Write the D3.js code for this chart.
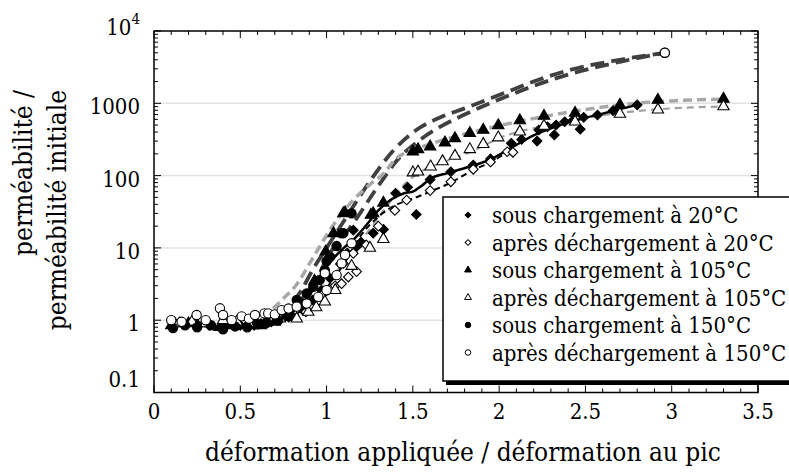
<!DOCTYPE html>
<html><head><meta charset="utf-8">
<script src="https://cdn.jsdelivr.net/npm/d3@7"></script>
<style>body{margin:0;background:#fff}</style>
</head><body><svg id="c" width="789" height="472"></svg>
<script>
// ---- data ----
const xTicks = [0, 0.5, 1, 1.5, 2, 2.5, 3, 3.5];
const xTickLabels = ["0", "0.5", "1", "1.5", "2", "2.5", "3", "3.5"];
const yTicks = [0.1, 1, 10, 100, 1000, 10000];
const yTickLabels = ["0.1", "1", "10", "100", "1000", "10"];
const legendLabels = ["sous chargement à 20°C", "après déchargement à 20°C", "sous chargement à 105°C",
  "après déchargement à 105°C", "sous chargement à 150°C", "après déchargement à 150°C"];

const s20X = [0.12,0.25,0.32,0.41,0.50,0.58,0.65,0.72,0.80,0.86,0.92,0.97,1.02,1.08,1.12,1.155,1.174,1.2,1.27,1.33,1.40,1.47,1.52,1.60,1.72,1.85,1.95,2.07,2.13,2.22,2.23,2.28,2.32,2.33,2.38,2.43,2.47,2.49,2.57,2.66,2.80];
const s20Y = [0.85,0.88,0.85,0.9,0.85,0.85,0.9,1.0,1.15,1.4,1.9,2.6,3.8,6,8.5,17.6,10.4,12,16,18,57,69,29,88,113,140,170,280,316,300,427,474,365,501,556,588,437,640,689,791,950];
const a20X = [0.15,0.3,0.45,0.55,0.68,0.78,0.88,0.98,1.05,1.087,1.097,1.126,1.155,1.174,1.23,1.30,1.396,1.464,1.60,1.72,1.85,1.95,2.047,2.08];
const a20Y = [0.95,0.95,0.95,0.9,0.95,1.1,1.3,2.3,3.0,3.2,6.1,3.95,8.4,4.7,11,20,33,46,62,82,122,154,214,210];
const s105X = [0.1,0.2,0.3,0.38,0.45,0.55,0.62,0.7,0.78,0.86,0.93,0.995,1.04,1.097,1.107,1.257,1.27,1.329,1.50,1.53,1.60,1.686,1.744,1.83,1.908,1.995,2.12,2.26,2.44,2.70,2.92,3.30];
const s105Y = [0.85,0.9,0.9,0.8,0.85,0.9,0.85,0.95,1.1,1.6,3.5,8.9,15.9,30,30.7,28.5,30,42,214,231,251,285,328,385,427,495,578,667,735,948,1110,1150];
const a105X = [0.12,0.22,0.3,0.4,0.48,0.55,0.65,0.73,0.827,0.894,0.94,0.99,1.05,1.145,1.251,1.329,1.50,1.53,1.603,1.672,1.744,1.83,1.908,1.995,2.12,2.26,2.44,2.70,2.92,3.30];
const a105Y = [0.9,0.95,0.9,1.0,0.95,0.9,0.95,1.05,1.05,1.3,1.5,1.8,2.6,5.6,10,13.2,110,113,133,157,187,231,272,336,405,485,556,711,816,905];
const s150X = [0.11,0.18,0.25,0.33,0.40,0.47,0.54,0.60,0.653,0.72,0.769,0.827,0.885,0.923,0.96,0.99,1.0,1.02,1.058,1.087,1.097,1.145,2.96];
const s150Y = [0.78,0.85,0.8,0.85,0.75,0.82,0.8,0.88,0.92,1.0,1.18,1.9,2.35,2.9,3.6,4.9,6.6,7.5,10.6,15.9,16,30,5000];
const a150X = [0.10,0.16,0.247,0.30,0.382,0.40,0.45,0.508,0.55,0.585,0.64,0.662,0.70,0.74,0.78,0.827,0.885,0.952,0.99,1.0,1.058,1.087,1.107,1.145,2.96];
const a150Y = [1.0,0.95,1.18,1.0,1.46,1.18,1.0,1.13,1.05,1.18,1.24,1.24,1.2,1.38,1.45,1.54,1.7,2.1,4.45,2.6,4.2,6.1,8,11.6,5000];

// fitted curves
const fitS20X = [0.55,0.7,0.8,0.9,1.0,1.1,1.155,1.2,1.27,1.3,1.37,1.45,1.5,1.55,1.6,1.7,1.85,1.95,2.08,2.2,2.3,2.4,2.5,2.6,2.7,2.8];
const fitS20Y = [0.88,1.0,1.3,2.2,5.5,10,12.9,17,27,33,46,57,60,72,90,108,138,168,250,360,450,540,630,720,830,950];
const fitA20X = [0.55,0.7,0.8,0.9,1.0,1.1,1.2,1.3,1.4,1.5,1.6,1.72,1.85,1.95,2.06,2.1];
const fitA20Y = [0.9,0.95,1.15,1.6,2.8,6,15,27,39,48,60,80,120,152,212,220];
const fitS105X = [0.55,0.65,0.75,0.83,0.9,0.96,1.02,1.08,1.155,1.25,1.34,1.39,1.45,1.55,1.77,2.0,2.25,2.5,2.75,3.0,3.3];
const fitS105Y = [0.95,1.2,2.0,3.2,6,10.4,17.7,28.5,46,75,113,160,205,250,360,490,650,820,980,1080,1140];
const fitA105X = [0.6,0.75,0.85,0.95,1.05,1.15,1.25,1.35,1.45,1.55,1.7,1.85,2.0,2.25,2.5,2.75,3.0,3.3];
const fitA105Y = [0.95,1.15,1.5,2.4,4.5,9,18,38,75,115,160,220,330,480,630,760,850,905];
const fitS150X = [0.6,0.75,0.85,0.92,1.0,1.116,1.2,1.27,1.39,1.52,1.66,1.8,2.0,2.2,2.4,2.7,2.96];
const fitS150Y = [0.95,1.3,2.5,5,10,27,55,97,226,427,640,850,1300,2000,2850,4000,5000];
const fitA150X = [0.6,0.75,0.85,0.95,1.0,1.155,1.31,1.41,1.54,1.66,1.8,2.0,2.2,2.4,2.7,2.96];
const fitA150Y = [0.95,1.2,1.9,4,7,22,78,164,311,475,700,1130,1740,2500,3750,5000];

// ---- drawing ----
const FONT = "DejaVu Serif Condensed";
const svg = d3.select("#c");
const L = 154, R = 758, T = 31, B = 392.5;
const x = d3.scaleLinear().domain([0, 3.5]).range([L, R]);
const y = d3.scaleLog().domain([0.1, 10000]).range([B, T]);

svg.append("g").selectAll("line").data([1, 10, 100, 1000]).join("line")
  .attr("x1", L).attr("x2", R).attr("y1", d => y(d)).attr("y2", d => y(d))
  .attr("stroke", "#e2e2e2").attr("stroke-width", 1.5);

const tk = svg.append("g").attr("stroke", "#000").attr("stroke-width", 1);
const xMinor = d3.range(0, 36).map(i => i / 10);
xMinor.forEach(v => {
  const major = Math.abs(v * 2 - Math.round(v * 2)) < 1e-6;
  const len = major ? 7 : 4;
  tk.append("line").attr("x1", x(v)).attr("x2", x(v)).attr("y1", B).attr("y2", B - len);
  tk.append("line").attr("x1", x(v)).attr("x2", x(v)).attr("y1", T).attr("y2", T + len);
});
const yMinor = [];
[0.1, 1, 10, 100, 1000].forEach(d => { for (let k = 1; k <= 9; k++) yMinor.push(d * k); });
yMinor.push(10000);
yMinor.forEach(v => {
  const major = yTicks.some(t => Math.abs(t - v) / t < 1e-6);
  const len = major ? 7 : 4;
  tk.append("line").attr("x1", L).attr("x2", L + len).attr("y1", y(v)).attr("y2", y(v));
  tk.append("line").attr("x1", R).attr("x2", R - len).attr("y1", y(v)).attr("y2", y(v));
});

svg.append("rect").attr("x", L).attr("y", T).attr("width", R - L).attr("height", B - T)
  .attr("fill", "none").attr("stroke", "#000").attr("stroke-width", 1.5);

const lineGen = d3.line().x(d => x(d[0])).y(d => y(d[1])).curve(d3.curveMonotoneX);
const fits = [
  {xs: fitS150X, ys: fitS150Y, stroke: "#404040", w: 3.8, dash: "14,7"},
  {xs: fitA150X, ys: fitA150Y, stroke: "#404040", w: 3.8, dash: "14,7"},
  {xs: fitS105X, ys: fitS105Y, stroke: "#a8a8a8", w: 3.5, dash: "9,5"},
  {xs: fitA105X, ys: fitA105Y, stroke: "#a0a0a0", w: 2.2, dash: "7,5"},
  {xs: fitA20X, ys: fitA20Y, stroke: "#000", w: 2, dash: "6,4"},
  {xs: fitS20X, ys: fitS20Y, stroke: "#000", w: 2.5, dash: null}
];
fits.forEach(f => {
  svg.append("path").datum(f.xs.map((v, i) => [v, f.ys[i]]))
    .attr("d", lineGen).attr("fill", "none").attr("stroke", f.stroke)
    .attr("stroke-width", f.w).attr("stroke-dasharray", f.dash);
});

const series = [
  {xs: s20X, ys: s20Y, type: "diamond", fill: "#000"},
  {xs: a20X, ys: a20Y, type: "diamond", fill: "#fff"},
  {xs: s105X, ys: s105Y, type: "triangle", fill: "#000"},
  {xs: a105X, ys: a105Y, type: "triangle", fill: "#fff"},
  {xs: s150X, ys: s150Y, type: "circle", fill: "#000"},
  {xs: a150X, ys: a150Y, type: "circle", fill: "#fff"}
];
function symPath(type, scale) {
  if (type === "diamond") return d3.symbol(d3.symbolSquare, 46 * scale * scale)();
  if (type === "triangle") return d3.symbol(d3.symbolTriangle, 56 * scale * scale)();
  return d3.symbol(d3.symbolCircle, 68 * scale * scale)();
}
series.forEach(s => {
  svg.append("g").selectAll("path").data(s.xs.map((v, i) => [v, s.ys[i]])).join("path")
    .attr("d", symPath(s.type, 1))
    .attr("transform", d => `translate(${x(d[0])},${y(d[1])})` + (s.type === "diamond" ? " rotate(45)" : ""))
    .attr("fill", s.fill).attr("stroke", "#000").attr("stroke-width", 1.1);
});

const fs = 22;
svg.append("g").selectAll("text").data(xTicks).join("text")
  .attr("font-family", FONT)
  .attr("x", d => x(d)).attr("y", 419).attr("text-anchor", "middle")
  .attr("font-size", fs).text((d, i) => xTickLabels[i]);
const yl = svg.append("g");
yTicks.forEach((t, i) => {
  let yy = y(t) + 11;
  if (t === 0.1) yy = 387;
  if (t === 10000) {
    const tx = yl.append("text").attr("font-family", FONT).attr("x", 140).attr("y", y(t) + 4).attr("text-anchor", "end").attr("font-size", fs);
    tx.append("tspan").text(yTickLabels[i]);
    tx.append("tspan").attr("font-size", 15).attr("dy", -11).text("4");
  } else {
    yl.append("text").attr("font-family", FONT).attr("x", 140).attr("y", yy).attr("text-anchor", "end")
      .attr("font-size", fs).text(yTickLabels[i]);
  }
});

svg.append("text").attr("font-family", FONT).attr("x", 463).attr("y", 461).attr("text-anchor", "middle")
  .attr("font-size", 26).text("déformation appliquée / déformation au pic");
svg.append("text").attr("font-family", FONT).attr("transform", "translate(32,90) rotate(-90)").attr("text-anchor", "end")
  .attr("font-size", 26).text("perméabilité /");
svg.append("text").attr("font-family", FONT).attr("transform", "translate(66,90) rotate(-90)").attr("text-anchor", "end")
  .attr("font-size", 26).text("perméabilité initiale");

const lg = svg.append("g");
const lx = 443, ly = 197, lw = 360, lh = 184;
lg.append("rect").attr("x", lx + 3).attr("y", ly + 4).attr("width", lw).attr("height", lh).attr("fill", "#000");
lg.append("rect").attr("x", lx).attr("y", ly).attr("width", lw).attr("height", lh)
  .attr("fill", "#fff").attr("stroke", "#000").attr("stroke-width", 1.5);
legendLabels.forEach((lab, i) => {
  const cy = 215 + i * 27.5;
  const s = series[i];
  lg.append("path").attr("d", symPath(s.type, 0.6))
    .attr("transform", `translate(468,${cy})` + (s.type === "diamond" ? " rotate(45)" : ""))
    .attr("fill", s.fill).attr("stroke", "#000").attr("stroke-width", 1);
  lg.append("text").attr("font-family", FONT).attr("x", 492).attr("y", cy + 8).attr("font-size", 22).text(lab);
});
</script></body></html>
